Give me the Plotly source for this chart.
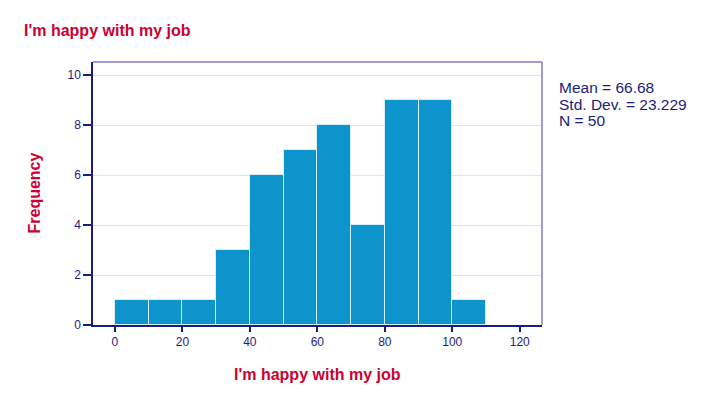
import plotly.graph_objects as go

bin_starts = [0, 10, 20, 30, 40, 50, 60, 70, 80, 90, 100]
counts = [1, 1, 1, 3, 6, 7, 8, 4, 9, 9, 1]
bin_width = 10
x_ticks = [0, 20, 40, 60, 80, 100, 120]
y_ticks = [0, 2, 4, 6, 8, 10]
stats_text = ["Mean = 66.68", "Std. Dev. = 23.229", "N = 50"]

navy = "#1C1C7C"
red = "#CC0033"
font = "Liberation Sans, Arial, sans-serif"

W, H = 720, 396
L, R, T, B = 93, 178, 62, 71
pw, ph = W - L - R, H - T - B

def px(xp):
    return (xp - L) / pw

def py(yp):
    return 1 - (yp - T) / ph

centers = [s + bin_width / 2 for s in bin_starts]

fig = go.Figure()
fig.add_trace(go.Bar(
    x=centers, y=counts, width=bin_width,
    marker=dict(color="#0E94CD", line=dict(color="#D6EEF8", width=1)),
    hoverinfo="x+y", showlegend=False,
))

fig.update_layout(
    width=W, height=H,
    margin=dict(l=L, r=R, t=T, b=B),
    plot_bgcolor="white", paper_bgcolor="white",
    font=dict(family=font, color=navy, size=12),
    title=dict(text="<b>I'm happy with my job</b>", x=24/W, xanchor="left",
               y=1-30/H, yanchor="middle",
               font=dict(family=font, size=16, color=red)),
    xaxis=dict(range=[-6.5, 126.6], tickvals=x_ticks, ticks="outside", ticklen=5,
               tickcolor=navy, tickwidth=1.5, showgrid=False, zeroline=False,
               showline=True, linecolor=navy, linewidth=1.5,
               tickfont=dict(size=12, color=navy)),
    yaxis=dict(range=[0, 10.53], tickvals=y_ticks, ticks="outside", ticklen=8,
               tickcolor=navy, tickwidth=1.5, showgrid=True, gridcolor="#E3E3E3",
               gridwidth=1, zeroline=False,
               showline=True, linecolor=navy, linewidth=1.5,
               tickfont=dict(size=12, color=navy)),
    bargap=0,
)

# top and right border (lighter)
fig.add_shape(type="line", xref="paper", yref="paper", x0=0, x1=1, y0=1, y1=1,
              line=dict(color="#7F7FBF", width=1.5))
fig.add_shape(type="line", xref="paper", yref="paper", x0=1, x1=1, y0=0, y1=1,
              line=dict(color="#7F7FBF", width=1.5))

# axis titles
fig.add_annotation(text="<b>I'm happy with my job</b>", xref="paper", yref="paper",
                   x=px(317), y=py(374), xanchor="center", yanchor="middle",
                   showarrow=False, font=dict(family=font, size=16, color=red))
fig.add_annotation(text="<b>Frequency</b>", xref="paper", yref="paper",
                   x=px(34.5), y=py(193), xanchor="center", yanchor="middle",
                   textangle=-90, showarrow=False,
                   font=dict(family=font, size=16, color=red))

# stats
for i, s in enumerate(stats_text):
    fig.add_annotation(text=s, xref="paper", yref="paper",
                       x=px(557), y=py(88 + 16 * i), xanchor="left", yanchor="middle",
                       align="left", showarrow=False,
                       font=dict(family=font, size=15.5, color=navy))

fig.write_html("out.html", config={"displayModeBar": False},
               post_script="document.body.style.margin='0';")
